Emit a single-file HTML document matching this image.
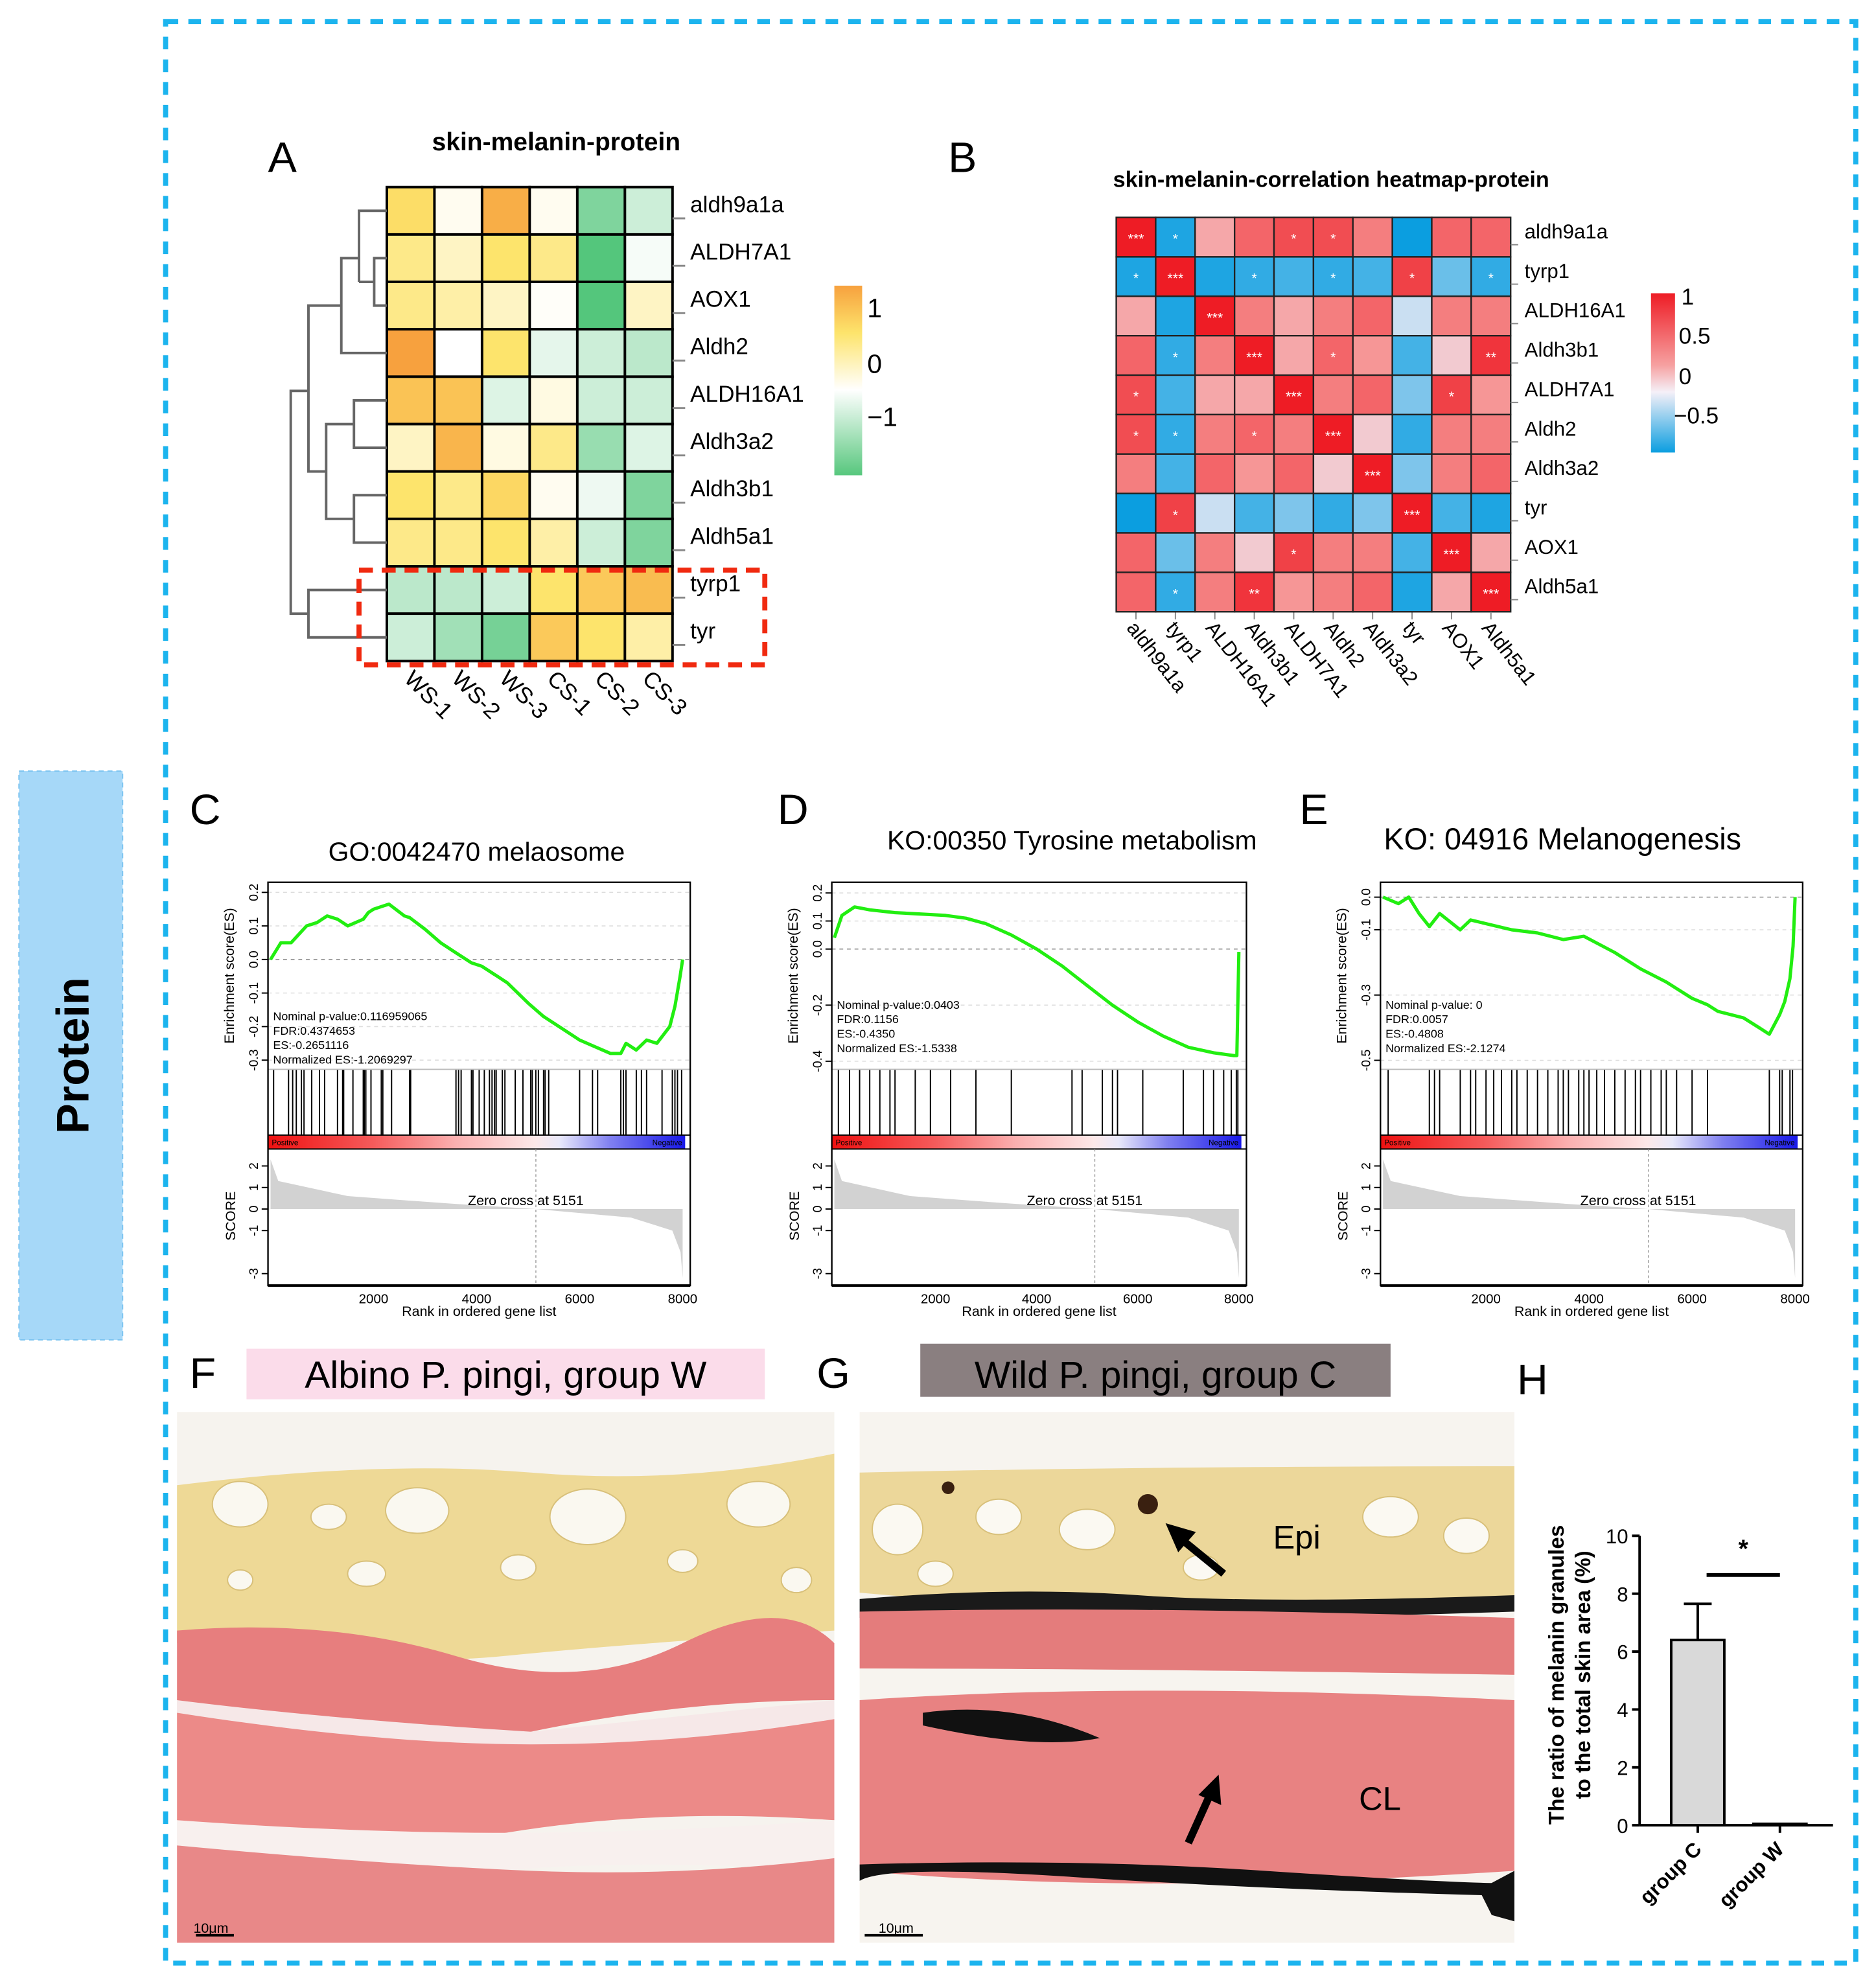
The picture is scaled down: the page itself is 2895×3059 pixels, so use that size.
<!DOCTYPE html>
<html><head><meta charset="utf-8"><style>
html,body{margin:0;padding:0;background:#fff;}
svg{display:block;font-family:"Liberation Sans",Arial,sans-serif;}
</style></head><body>
<svg id="fig" xmlns="http://www.w3.org/2000/svg" width="2895" height="3059" viewBox="0 0 1484 1568" preserveAspectRatio="none">
<defs>
<linearGradient id="gA" x1="0" y1="0" x2="0" y2="1"><stop offset="0" stop-color="#f7a13e"/><stop offset="0.25" stop-color="#fde46c"/><stop offset="0.55" stop-color="#ffffff"/><stop offset="1" stop-color="#57c77d"/></linearGradient>
<linearGradient id="gB" x1="0" y1="0" x2="0" y2="1"><stop offset="0" stop-color="#ee1c25"/><stop offset="0.45" stop-color="#f6a0a0"/><stop offset="0.62" stop-color="#f5f0f8"/><stop offset="1" stop-color="#0b9ee0"/></linearGradient>
<linearGradient id="gRB" x1="0" y1="0" x2="1" y2="0"><stop offset="0" stop-color="#ee1111"/><stop offset="0.25" stop-color="#f55a5a"/><stop offset="0.45" stop-color="#fbb0b0"/><stop offset="0.64" stop-color="#fde8e8"/><stop offset="0.7" stop-color="#e8e8fa"/><stop offset="0.82" stop-color="#8080f0"/><stop offset="1" stop-color="#1818e8"/></linearGradient>
<clipPath id="cF"><rect x="140" y="1117" width="520" height="420"/></clipPath>
<clipPath id="cG"><rect x="680" y="1117" width="518" height="420"/></clipPath>
</defs>
<rect x="131" y="17" width="1337" height="1536" fill="none" stroke="#1cb4ee" stroke-width="4" stroke-dasharray="10,8"/>
<g>
<rect x="15" y="610" width="82" height="450" fill="#a6d8f8" stroke="#7cc4f0" stroke-dasharray="4,3"/>
<text x="0" y="0" transform="translate(70,835) rotate(-90)" text-anchor="middle" font-size="36" font-weight="bold">Protein</text>
</g>
<g id="panelA"></g>
<g id="panelB"></g>
<g id="gsea"></g>
<g id="histo"></g>
<g id="panelH"></g>
</svg>
<script>
const NS="http://www.w3.org/2000/svg";
function mk(p,tag,a,txt){const e=document.createElementNS(NS,tag);for(const k in a)e.setAttribute(k,a[k]);if(txt!==undefined)e.textContent=txt;p.appendChild(e);return e;}
function lerp(a,b,t){return a.map((v,i)=>Math.round(v+(b[i]-v)*t));}
function rgb(c){return "rgb("+c.join(",")+")";}

// ---------- Panel A data ----------
const aRows=["aldh9a1a","ALDH7A1","AOX1","Aldh2","ALDH16A1","Aldh3a2","Aldh3b1","Aldh5a1","tyrp1","tyr"];
const aCols=["WS-1","WS-2","WS-3","CS-1","CS-2","CS-3"];
const aVals=[
[0.55,0.05,0.9,0.05,-0.75,-0.3],
[0.4,0.2,0.5,0.4,-1.0,-0.05],
[0.4,0.3,0.2,0.02,-1.0,0.2],
[1.0,0.0,0.5,-0.15,-0.3,-0.4],
[0.75,0.75,-0.2,0.1,-0.3,-0.3],
[0.2,0.85,0.1,0.4,-0.6,-0.2],
[0.5,0.4,0.6,0.05,-0.1,-0.75],
[0.4,0.4,0.5,0.3,-0.3,-0.75],
[-0.4,-0.4,-0.3,0.5,0.7,0.8],
[-0.3,-0.55,-0.8,0.7,0.5,0.3]];
function colA(v){const O=[247,161,62],Y=[253,228,108],W=[255,255,255],G=[84,198,124];
 if(v>=0.5)return rgb(lerp(Y,O,(v-0.5)/0.5));if(v>=0)return rgb(lerp(W,Y,v/0.5));return rgb(lerp(W,G,Math.min(1,-v)));}
(function(){
const g=document.getElementById('panelA');
let t=mk(g,'text',{x:212,y:136,'font-size':34},'A');


t=mk(g,'text',{x:440,y:119,'font-size':20,'font-weight':'bold','text-anchor':'middle'},'skin-melanin-protein');


const x0=306,y0=148,cw=226/6,rh=375/10;
aRows.forEach((r,i)=>{aCols.forEach((c,j)=>{
 const cell=mk(g,'rect',{x:x0+j*cw,y:y0+i*rh,width:cw,height:rh,fill:colA(aVals[i][j]),stroke:'#000','stroke-width':2});
 
 
});
 mk(g,'line',{x1:x0+226,x2:x0+236,y1:y0+i*rh+rh/2+6,y2:y0+i*rh+rh/2+6,stroke:'#888','stroke-width':1.5});
 const l=mk(g,'text',{x:546,y:y0+i*rh+rh/2+1,'font-size':18},r);
 
 
});
aCols.forEach((c,j)=>{const cx=x0+j*cw+cw/2+2;
 const l=mk(g,'text',{x:0,y:0,'font-size':18,transform:`translate(${cx-8},${538}) rotate(45)`},c);
 
 });
const dg=mk(g,'g',{stroke:'#666','stroke-width':2,fill:'none'});


const ry=i=>y0+i*rh+rh/2;
[[[306,ry(0)],[284,ry(0)],[284,ry(1.5)]],[[306,ry(1)],[296,ry(1)],[296,ry(2)],[306,ry(2)]],[[296,ry(1.5)],[284,ry(1.5)]],
 [[284,ry(1)],[270,ry(1)],[270,ry(3)],[306,ry(3)]],
 [[306,ry(4)],[280,ry(4)],[280,ry(5)],[306,ry(5)]],[[306,ry(6)],[280,ry(6)],[280,ry(7)],[306,ry(7)]],
 [[280,ry(4.5)],[258,ry(4.5)],[258,ry(6.5)],[280,ry(6.5)]],
 [[270,ry(2)],[244,ry(2)],[244,ry(5.5)],[258,ry(5.5)]],
 [[306,ry(8)],[244,ry(8)],[244,ry(9)],[306,ry(9)]],
 [[244,ry(3.8)],[230,ry(3.8)],[230,ry(8.5)],[244,ry(8.5)]]].forEach(p=>mk(dg,'polyline',{points:p.map(q=>q.join(',')).join(' ')}));
const box=mk(g,'rect',{x:284,y:451,width:321,height:75,fill:'none',stroke:'#f02a10','stroke-width':4,'stroke-dasharray':'11,7'});


const lg=mk(g,'rect',{x:660,y:226,width:22,height:150,fill:'url(#gA)'});


[['1',251],['0',295],['−1',337]].forEach(a=>mk(g,'text',{x:686,y:a[1],'font-size':21},a[0]));
})();

// ---------- Panel B data ----------
const bLabels=["aldh9a1a","tyrp1","ALDH16A1","Aldh3b1","ALDH7A1","Aldh2","Aldh3a2","tyr","AOX1","Aldh5a1"];
const bVals=[
[1,-0.55,0.4,0.7,0.8,0.8,0.6,-0.6,0.7,0.7],
[-0.55,1,-0.55,-0.5,-0.45,-0.5,-0.45,0.85,-0.35,-0.5],
[0.4,-0.55,1,0.6,0.4,0.6,0.7,-0.1,0.6,0.6],
[0.7,-0.5,0.6,1,0.4,0.7,0.5,-0.45,0.2,0.9],
[0.8,-0.45,0.4,0.4,1,0.6,0.7,-0.3,0.85,0.5],
[0.8,-0.5,0.6,0.7,0.6,1,0.2,-0.5,0.6,0.6],
[0.6,-0.45,0.7,0.5,0.7,0.2,1,-0.3,0.6,0.7],
[-0.6,0.85,-0.1,-0.45,-0.3,-0.5,-0.3,1,-0.45,-0.55],
[0.7,-0.35,0.6,0.2,0.85,0.6,0.6,-0.45,1,0.4],
[0.7,-0.5,0.6,0.9,0.5,0.6,0.7,-0.55,0.4,1]];
const bStars=[
["***","*","","","*","*","","","",""],
["*","***","","*","","*","","*","","*"],
["","","***","","","","","","",""],
["","*","","***","","*","","","","**"],
["*","","","","***","","","","*",""],
["*","*","","*","","***","","","",""],
["","","","","","","***","","",""],
["","*","","","","","","***","",""],
["","","","","*","","","","***",""],
["","*","","**","","","","","","***"]];
function colB(v){const R=[238,28,37],P=[246,150,150],W=[240,236,246],B=[11,158,224];
 if(v>=0.5)return rgb(lerp(P,R,(v-0.5)/0.5));if(v>=0)return rgb(lerp(W,P,v/0.5));return rgb(lerp(W,B,Math.min(1,-v/0.6)));}
(function(){
const g=document.getElementById('panelB');
let t=mk(g,'text',{x:750,y:136,'font-size':34},'B');


t=mk(g,'text',{x:1053,y:148,'font-size':17.5,'font-weight':'bold','text-anchor':'middle'},'skin-melanin-correlation heatmap-protein');


const x0=883,y0=172,s=31.2;
bLabels.forEach((r,i)=>{bLabels.forEach((c,j)=>{
 const cell=mk(g,'rect',{x:x0+j*s,y:y0+i*s,width:s,height:s,fill:colB(bVals[i][j]),stroke:'#222','stroke-width':1.2});
 
 
 if(bStars[i][j])mk(g,'text',{x:x0+j*s+s/2,y:y0+i*s+s/2+5,'font-size':11,fill:'#fff','text-anchor':'middle'},bStars[i][j]);
});
 mk(g,'line',{x1:x0+312,x2:x0+318,y1:y0+i*s+s/2+6,y2:y0+i*s+s/2+6,stroke:'#888'});
 const l=mk(g,'text',{x:1206,y:y0+i*s+s/2+1,'font-size':16},r);
 
 
 const cx=x0+i*s+s/2;
 mk(g,'line',{x1:cx,x2:cx,y1:y0+312,y2:y0+318,stroke:'#888'});
 const c=mk(g,'text',{x:0,y:0,'font-size':16,transform:`translate(${cx-8},${y0+325}) rotate(52)`},r);
 
 
});
const lg=mk(g,'rect',{x:1306,y:232,width:19,height:126,fill:'url(#gB)'});


[['1',1330,241],['0.5',1328,272],['0',1328,304],['−0.5',1324,335]].forEach(a=>mk(g,'text',{x:a[1],y:a[2],'font-size':18},a[0]));
})();

// ---------- GSEA data ----------
const gseaTitles=["GO:0042470 melaosome","KO:00350 Tyrosine metabolism","KO: 04916 Melanogenesis"];
const gseaStats=[
["Nominal p-value:0.116959065","FDR:0.4374653","ES:-0.2651116","Normalized ES:-1.2069297"],
["Nominal p-value:0.0403","FDR:0.1156","ES:-0.4350","Normalized ES:-1.5338"],
["Nominal p-value: 0","FDR:0.0057","ES:-0.4808","Normalized ES:-2.1274"]];
const esRankC=[0,200,400,700,900,1100,1300,1500,1800,1900,2000,2200,2300,2600,2700,3000,3300,3600,3900,4100,4400,4600,5000,5300,5600,6000,6300,6600,6800,6900,7100,7300,7500,7650,7750,7850,7950,8000];
const esValC=[0,0.05,0.05,0.1,0.11,0.13,0.12,0.1,0.12,0.14,0.15,0.16,0.165,0.13,0.125,0.09,0.05,0.02,-0.01,-0.02,-0.05,-0.07,-0.13,-0.17,-0.2,-0.24,-0.26,-0.28,-0.28,-0.25,-0.27,-0.24,-0.25,-0.22,-0.2,-0.14,-0.05,0];
const esRankD=[0,150,400,700,1200,1700,2200,2600,3000,3500,4000,4500,5000,5500,6000,6500,7000,7500,7900,7960,8000];
const esValD=[0.04,0.12,0.15,0.14,0.13,0.125,0.12,0.11,0.09,0.05,0.0,-0.06,-0.13,-0.2,-0.26,-0.31,-0.35,-0.37,-0.38,-0.38,-0.01];
const esRankE=[0,300,500,700,900,1100,1500,1700,2500,3000,3500,3900,4500,5000,5500,6000,6300,6500,7000,7300,7500,7700,7800,7900,7960,8000];
const esValE=[0,-0.02,0.0,-0.05,-0.09,-0.05,-0.1,-0.07,-0.1,-0.11,-0.13,-0.12,-0.17,-0.22,-0.26,-0.31,-0.33,-0.35,-0.37,-0.4,-0.42,-0.36,-0.32,-0.25,-0.15,0.0];
const hitsC=[60,350,430,500,600,650,800,950,1050,1300,1400,1420,1600,1800,1820,1850,1950,2150,2180,2350,2700,2720,3600,3650,3700,3900,3930,4050,4150,4250,4300,4350,4380,4500,4550,4750,4900,5050,5080,5150,5200,5300,5330,5400,6000,6250,6350,6800,6850,6900,7100,7200,7300,7600,7800,7850,7900,7980];
const hitsD=[80,300,500,700,900,1100,1200,1600,1900,2300,2800,3500,4700,4900,5300,5500,5600,6100,6900,7300,7500,7700,7850,7950,7980];
const hitsE=[100,900,1000,1100,1500,1700,1800,2000,2150,2300,2500,2600,2800,3000,3200,3400,3500,3600,3800,3900,4000,4150,4300,4500,4700,4900,5000,5200,5400,5500,5700,6000,6300,7500,7700,7750,7900,7950];
const esTicks=[[0.2,0.1,0.0,-0.1,-0.2,-0.3],[0.2,0.1,0.0,-0.2,-0.4],[0.0,-0.1,-0.3,-0.5]];
const esRanges=[[0.215,-0.32],[0.22,-0.42],[0.03,-0.52]];
const xTicks=[2000,4000,6000,8000];
const scoreTicks=[2,1,0,-1,-3];
(function(){
const G=document.getElementById('gsea');
const panels=[{x0:212,x1:546,letter:'C',lx:150,tx:377,ty:681,fs:21},{x0:658,x1:986,letter:'D',lx:615,tx:848,ty:672,fs:21},{x0:1092,x1:1426,letter:'E',lx:1028,tx:1236,ty:672,fs:24}];
const ranks=[esRankC,esRankD,esRankE],vals=[esValC,esValD,esValE],hits=[hitsC,hitsD,hitsE];
panels.forEach((p,k)=>{
 const g=mk(G,'g',{});
 
 
 mk(g,'text',{x:p.lx,y:652,'font-size':34},p.letter);
 const tt=mk(g,'text',{x:p.tx,y:p.ty,'font-size':p.fs,'text-anchor':'middle'},gseaTitles[k]);
 
 
 const yT=698,yH=846,yBar=898,yS=909,yB=1017;
 const xr=r=>p.x0+2+(r/8000)*(p.x1-p.x0-8);
 const [hi,lo]=esRanges[k];
 const ye=v=>yT+4+(hi-v)/(hi-lo)*(yH-yT-6);
 esTicks[k].forEach(v=>{mk(g,'line',{x1:p.x0,x2:p.x1,y1:ye(v),y2:ye(v),stroke:v===0?'#888':'#ddd','stroke-dasharray':'3,3','stroke-width':0.8});
  mk(g,'line',{x1:p.x0-5,x2:p.x0,y1:ye(v),y2:ye(v),stroke:'#000'});
  mk(g,'text',{x:0,y:0,'font-size':10,'text-anchor':'middle',transform:`translate(${p.x0-8},${ye(v)}) rotate(-90)`},v.toFixed(1));});
 mk(g,'text',{x:0,y:0,'font-size':11,'text-anchor':'middle',transform:`translate(${p.x0-27},${772}) rotate(-90)`},'Enrichment score(ES)');
 hits[k].forEach(h=>{const l=mk(g,'line',{x1:xr(h),x2:xr(h),y1:yH,y2:yBar,stroke:'#000','stroke-width':1});
  
  });
 mk(g,'rect',{x:p.x0,y:yBar,width:p.x1-p.x0-4,height:yS-yBar,fill:'url(#gRB)'});
 mk(g,'text',{x:p.x0+3,y:yBar+8,'font-size':6},'Positive');
 mk(g,'text',{x:p.x1-30,y:yBar+8,'font-size':6},'Negative');
 mk(g,'line',{x1:p.x0,x2:p.x1,y1:yH,y2:yH,stroke:'#bbb'});
 mk(g,'line',{x1:p.x0,x2:p.x1,y1:yBar,y2:yBar,stroke:'#000'});
 mk(g,'line',{x1:p.x0,x2:p.x1,y1:yS,y2:yS,stroke:'#000'});
 const pts=ranks[k].map((r,i)=>xr(r).toFixed(1)+','+ye(vals[k][i]).toFixed(1)).join(' ');
 const c=mk(g,'polyline',{points:pts,fill:'none',stroke:'#22ee11','stroke-width':2.6,'stroke-linejoin':'round'});
 
 
 gseaStats[k].forEach((s,i)=>mk(g,'text',{x:p.x0+4,y:(k===0?807:798)+i*11.5,'font-size':9.2},s));
 const ys=v=>yS+10+(2.2-v)/5.4*(yB-yS-16);
 const z=xr(5151);
 mk(g,'path',{d:`M${xr(0)},${ys(0)} L${xr(0)},${ys(2.3)} L${xr(150)},${ys(1.3)} L${xr(1500)},${ys(0.6)} L${xr(3500)},${ys(0.25)} L${z},${ys(0)} L${xr(7000)},${ys(-0.4)} L${xr(7800)},${ys(-1)} L${xr(7960)},${ys(-2)} L${xr(8000)},${ys(-3.2)} L${xr(8000)},${ys(0)} Z`,fill:'#d2d2d2'});
 mk(g,'line',{x1:z,x2:z,y1:yS,y2:yB,stroke:'#999','stroke-dasharray':'2,2','stroke-width':0.7});
 mk(g,'text',{x:z-8,y:ys(0)-3,'font-size':11,'text-anchor':'middle'},'Zero cross at 5151');
 scoreTicks.forEach(v=>{mk(g,'line',{x1:p.x0-5,x2:p.x0,y1:ys(v),y2:ys(v),stroke:'#000'});
  mk(g,'text',{x:0,y:0,'font-size':10,'text-anchor':'middle',transform:`translate(${p.x0-8},${ys(v)}) rotate(-90)`},String(v));});
 mk(g,'text',{x:0,y:0,'font-size':11,'text-anchor':'middle',transform:`translate(${p.x0-26},${962}) rotate(-90)`},'SCORE');
 mk(g,'rect',{x:p.x0,y:yT,width:p.x1-p.x0,height:yB-yT,fill:'none',stroke:'#000','stroke-width':1.2});
 mk(g,'line',{x1:p.x0,x2:p.x1,y1:yB,y2:yB,stroke:'#000','stroke-width':2});
 xTicks.forEach(v=>mk(g,'text',{x:xr(v),y:1031,'font-size':10.5,'text-anchor':'middle'},String(v)));
 mk(g,'text',{x:(p.x0+p.x1)/2,y:1041,'font-size':11,'text-anchor':'middle'},'Rank in ordered gene list');
});
})();

// ---------- histology ----------
(function(){
const H=document.getElementById('histo');
mk(H,'text',{x:150,y:1098,'font-size':34},'F');
mk(H,'rect',{x:195,y:1067,width:410,height:40,fill:'#fbdcea'});
let t=mk(H,'text',{x:400,y:1098,'font-size':30,'text-anchor':'middle'},'Albino P. pingi, group W');


mk(H,'text',{x:646,y:1098,'font-size':34},'G');
mk(H,'rect',{x:728,y:1063,width:372,height:42,fill:'#8a7f80'});
t=mk(H,'text',{x:914,y:1098,'font-size':30,'text-anchor':'middle'},'Wild P. pingi, group C');


mk(H,'text',{x:1200,y:1103,'font-size':34},'H');
const f=mk(H,'g',{'clip-path':'url(#cF)'});


mk(f,'rect',{x:140,y:1117,width:520,height:420,fill:'#f6f3ee'});
mk(f,'path',{d:'M140,1175 Q300,1155 420,1165 T660,1150 L660,1290 Q500,1300 400,1310 T140,1300 Z',fill:'#eed996'});
[[190,1190,22,18],[260,1200,14,10],[330,1195,25,18],[465,1200,30,22],[600,1190,25,18],[540,1235,12,9],[410,1240,14,10],[190,1250,10,8],[290,1245,15,10],[630,1250,12,10]].forEach(b=>mk(f,'ellipse',{cx:b[0],cy:b[1],rx:b[2],ry:b[3],fill:'#faf8f0',stroke:'#d8c07a'}));
mk(f,'path',{d:'M140,1290 Q260,1280 360,1310 T540,1300 T660,1300 L660,1345 Q540,1345 420,1370 T140,1345 Z',fill:'#e77e7e'});
mk(f,'path',{d:'M140,1345 Q260,1360 420,1370 L660,1345 L660,1400 Q500,1395 400,1420 T140,1400 Z',fill:'#f6e8e8'});
mk(f,'path',{d:'M140,1355 Q300,1380 420,1380 T660,1360 L660,1440 Q520,1430 400,1450 T140,1440 Z',fill:'#ec8a88'});
mk(f,'path',{d:'M140,1440 Q280,1450 400,1450 T660,1440 L660,1480 Q500,1470 400,1480 T140,1470 Z',fill:'#f8f0ee'});
mk(f,'path',{d:'M140,1460 Q300,1475 420,1480 T660,1470 L660,1537 L140,1537 Z',fill:'#e88888'});
mk(f,'line',{x1:155,x2:185,y1:1531,y2:1531,stroke:'#000','stroke-width':2});
mk(f,'text',{x:153,y:1529,'font-size':11},'10μm');
const g=mk(H,'g',{'clip-path':'url(#cG)'});


mk(g,'rect',{x:680,y:1117,width:518,height:420,fill:'#f7f4ef'});
mk(g,'path',{d:'M680,1165 Q900,1160 1198,1160 L1198,1275 Q900,1280 680,1260 Z',fill:'#ecd79a'});
[[710,1210,20,20],[790,1200,18,14],[860,1210,22,16],[1100,1200,22,16],[1160,1215,18,14],[950,1240,14,10],[740,1245,14,10]].forEach(b=>mk(g,'ellipse',{cx:b[0],cy:b[1],rx:b[2],ry:b[3],fill:'#fbf9f2',stroke:'#d8c07a'}));
mk(g,'path',{d:'M680,1265 Q800,1255 900,1262 T1198,1262 L1198,1275 Q900,1285 680,1280 Z',fill:'#1a1a1a'});
mk(g,'path',{d:'M680,1275 Q900,1270 1198,1280 L1198,1325 Q900,1320 680,1320 Z',fill:'#e47c7c'});
mk(g,'path',{d:'M680,1345 Q900,1330 1198,1345 L1198,1480 Q900,1500 680,1480 Z',fill:'#e88282'});
mk(g,'path',{d:'M730,1355 Q800,1345 870,1375 Q820,1385 730,1365 Z',fill:'#111'});
mk(g,'path',{d:'M680,1475 Q850,1470 1000,1480 T1198,1490 L1198,1500 Q1000,1495 850,1485 T680,1488 Z',fill:'#111'});
mk(g,'path',{d:'M1170,1495 L1198,1480 L1198,1520 L1180,1515 Z',fill:'#111'});
mk(g,'circle',{cx:908,cy:1190,r:8,fill:'#3a2010'});
mk(g,'circle',{cx:750,cy:1177,r:5,fill:'#3a2010'});
mk(g,'line',{x1:968,y1:1245,x2:930,y2:1214,stroke:'#000','stroke-width':6});
mk(g,'path',{d:'M922,1205 L946,1212 L932,1228 Z',fill:'#000'});
mk(g,'line',{x1:940,y1:1458,x2:958,y2:1418,stroke:'#000','stroke-width':6});
mk(g,'path',{d:'M964,1404 L966,1428 L948,1420 Z',fill:'#000'});
mk(g,'text',{x:1007,y:1225,'font-size':26},'Epi');
mk(g,'text',{x:1075,y:1432,'font-size':26},'CL');
mk(g,'line',{x1:684,x2:730,y1:1531,y2:1531,stroke:'#000','stroke-width':2});
mk(g,'text',{x:695,y:1529,'font-size':11},'10μm');
})();

// ---------- Panel H ----------
const hGroups=["group C","group W"];
const hMeans=[6.4,0.05];
const hErr=[1.25,0];
const hTicks=[0,2,4,6,8,10];
(function(){
const g=document.getElementById('panelH');
const ax=1297,y0=1444,y10=1215;
const yv=v=>y0-(v/10)*(y0-y10);
mk(g,'line',{x1:ax,x2:ax,y1:y10,y2:y0,stroke:'#000','stroke-width':2});
mk(g,'line',{x1:ax,x2:1450,y1:y0,y2:y0,stroke:'#000','stroke-width':2});
hTicks.forEach(v=>{mk(g,'line',{x1:ax-6,x2:ax,y1:yv(v),y2:yv(v),stroke:'#000','stroke-width':2});
 mk(g,'text',{x:ax-9,y:yv(v)+6,'font-size':16,'text-anchor':'end'},String(v));});
const cxs=[1343,1408];
hGroups.forEach((n,i)=>{const cx=cxs[i];
 const b=mk(g,'rect',{x:cx-21,y:yv(hMeans[i]),width:42,height:y0-yv(hMeans[i]),fill:'#d9d9d9',stroke:'#000','stroke-width':2});
 
 
 if(hErr[i]>0){mk(g,'line',{x1:cx,x2:cx,y1:yv(hMeans[i]),y2:yv(hMeans[i]+hErr[i]),stroke:'#000','stroke-width':2});
  mk(g,'line',{x1:cx-11,x2:cx+11,y1:yv(hMeans[i]+hErr[i]),y2:yv(hMeans[i]+hErr[i]),stroke:'#000','stroke-width':2});}
 mk(g,'line',{x1:cx,x2:cx,y1:y0,y2:y0+6,stroke:'#000','stroke-width':2});
 mk(g,'text',{x:0,y:0,'font-size':16,'font-weight':'bold','text-anchor':'end',transform:`translate(${cx+4},${y0+20}) rotate(-45)`},n);
});
mk(g,'line',{x1:1350,x2:1408,y1:1246,y2:1246,stroke:'#000','stroke-width':3});
mk(g,'text',{x:1379,y:1232,'font-size':20,'font-weight':'bold','text-anchor':'middle'},'*');
mk(g,'text',{x:0,y:0,'font-size':17,'font-weight':'bold','text-anchor':'middle',transform:'translate(1237,1325) rotate(-90)'},'The ratio  of melanin granules');
mk(g,'text',{x:0,y:0,'font-size':17,'font-weight':'bold','text-anchor':'middle',transform:'translate(1258,1325) rotate(-90)'},'to the total skin area (%)');
})();
</script>
</body></html>
